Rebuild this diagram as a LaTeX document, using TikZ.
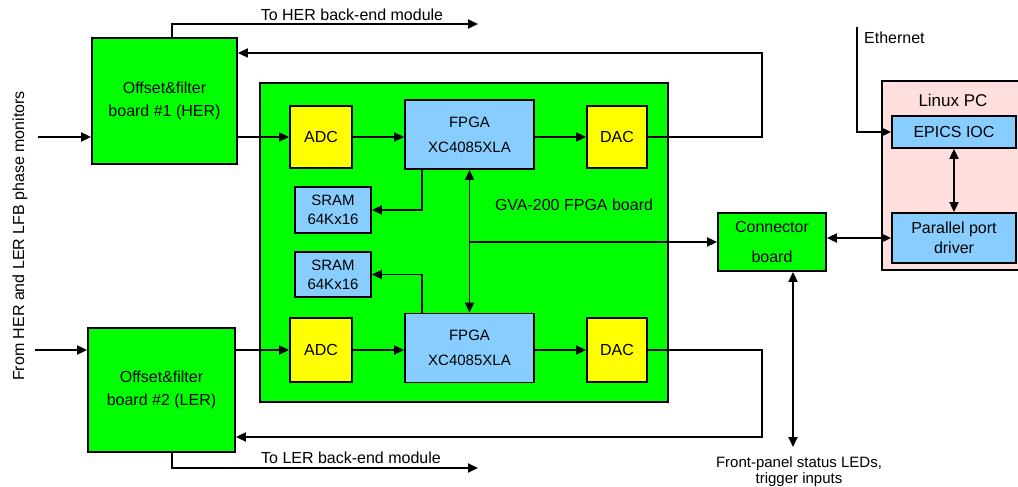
\documentclass[tikz,border=0pt]{standalone}
\usepackage{fontspec}
\setmainfont{Liberation Sans}
\usetikzlibrary{arrows.meta}
\definecolor{bgreen}{RGB}{0,255,0}
\definecolor{byellow}{RGB}{255,255,0}
\definecolor{bblue}{RGB}{135,206,255}
\definecolor{bpink}{RGB}{255,222,222}
\begin{document}
\begin{tikzpicture}[x=1pt,y=-1pt,
  box/.style={draw, line width=1.8pt, inner sep=0pt, align=center, font=\fontsize{16}{23}\selectfont},
  wire/.style={line width=1.8pt},
  tip/.tip={Triangle[length=10pt,width=9pt]},
  arr/.style={wire,-tip},
  darr/.style={wire,tip-tip},
  lbl/.style={font=\fontsize{16}{16}\selectfont, inner sep=0pt, align=center}]
\useasboundingbox (0,0) rectangle (1018,487);

% Linux PC
\node[box, fill=bpink, minimum width=143pt, minimum height=189pt] (pc) at (953.5,175.5) {};
\node[lbl, font=\fontsize{17}{17}\selectfont] (pclbl) at (953,100) {Linux PC};
\node[box, fill=bblue, minimum width=124pt, minimum height=32pt] (epics) at (954,132) {EPICS IOC};
\node[box, fill=bblue, minimum width=124pt, minimum height=50pt, font=\fontsize{16}{20}\selectfont] (ppd) at (954,238) {Parallel port\\driver};

% GVA board
\node[box, fill=bgreen, minimum width=408pt, minimum height=319pt] (gva) at (464,242.5) {};
\node[lbl] (gvalbl) at (574,205) {GVA-200 FPGA board};

% boards
\node[box, fill=bgreen, minimum width=145pt, minimum height=126pt] (b1) at (164.5,101) {Offset\&filter\\board \#1 (HER)};
\node[box, fill=bgreen, minimum width=147pt, minimum height=124pt] (b2) at (161.5,390) {Offset\&filter\\board \#2 (LER)};

% top row
\node[box, fill=byellow, minimum width=62pt, minimum height=62pt] (adc1) at (321,137) {ADC};
\node[box, fill=bblue, minimum width=129pt, minimum height=69pt, font=\fontsize{15}{25}\selectfont] (fpga1) at (469.5,134.5) {FPGA\\XC4085XLA};
\node[box, fill=byellow, minimum width=60pt, minimum height=62pt] (dac1) at (617,137) {DAC};
\node[box, fill=bblue, minimum width=76pt, minimum height=46pt, font=\fontsize{15}{19}\selectfont] (sram1) at (333,210) {SRAM\\64Kx16};
\node[box, fill=bblue, minimum width=76pt, minimum height=45pt, font=\fontsize{15}{19}\selectfont] (sram2) at (333,274.5) {SRAM\\64Kx16};

% bottom row
\node[box, fill=byellow, minimum width=62pt, minimum height=64pt] (adc2) at (321,350) {ADC};
\node[box, fill=bblue, minimum width=129pt, minimum height=69pt, font=\fontsize{15}{25}\selectfont] (fpga2) at (469.5,348) {FPGA\\XC4085XLA};
\node[box, fill=byellow, minimum width=60pt, minimum height=64pt] (dac2) at (617,350) {DAC};

% connector board
\node[box, fill=bgreen, minimum width=108pt, minimum height=58pt, font=\fontsize{16}{30}\selectfont] (conn) at (772,242) {Connector\\board};

% free ends
\coordinate (in1) at (38,137);
\coordinate (in2) at (35,350);
\coordinate (her) at (478,24);
\coordinate (ler) at (478,468);
\coordinate (fb1) at (762,53);
\coordinate (fb2) at (762,437);
\coordinate (eth) at (857,27);
\coordinate (fp) at (793,447);

% labels
\node[lbl, rotate=90] (inlbl) at (20,236) {From HER and LER LFB phase monitors};
\node[lbl] (herlbl) at (352,15) {To HER back-end module};
\node[lbl] (lerlbl) at (351,458) {To LER back-end module};
\node[lbl, anchor=west] (ethlbl) at (864,38) {Ethernet};
\node[lbl, font=\fontsize{15}{16}\selectfont] (fplbl) at (799,472) {Front-panel status LEDs,\\trigger inputs};

% wires
\draw[arr] (in1) -- (in1 -| b1.west);
\draw[arr] (in2) -- (in2 -| b2.west);
\draw[arr] (adc1 -| b1.east) -- (adc1.west);
\draw[arr] (adc2 -| b2.east) -- (adc2.west);
\draw[arr] (adc1.east) -- (adc1 -| fpga1.west);
\draw[arr] (adc2.east) -- (adc2 -| fpga2.west);
\draw[arr] (dac1 -| fpga1.east) -- (dac1.west);
\draw[arr] (dac2 -| fpga2.east) -- (dac2.west);
\draw[arr] ([xshift=-47.5pt]fpga1.south) |- (sram1.east);
\draw[arr] ([xshift=-47.5pt]fpga2.north) |- (sram2.east);
\draw[darr] (fpga1.south) -- (fpga2.north);
\draw[arr] (fpga1.south |- conn.west) -- (conn.west);
\draw[arr] (dac1.east) -| (fb1) -- (fb1 -| b1.east);
\draw[arr] (dac2.east) -| (fb2) -- (fb2 -| b2.east);
\draw[arr] ([xshift=7.5pt]b1.north) |- (her);
\draw[arr] ([xshift=10.5pt]b2.south) |- (ler);
\draw[darr] (ppd.west -| conn.east) -- (ppd.west);
\draw[darr] (epics.south) -- (ppd.north);
\draw[arr] (eth) |- (epics.west);
\draw[darr] (fp |- conn.south) -- (fp);
\end{tikzpicture}
\end{document}
